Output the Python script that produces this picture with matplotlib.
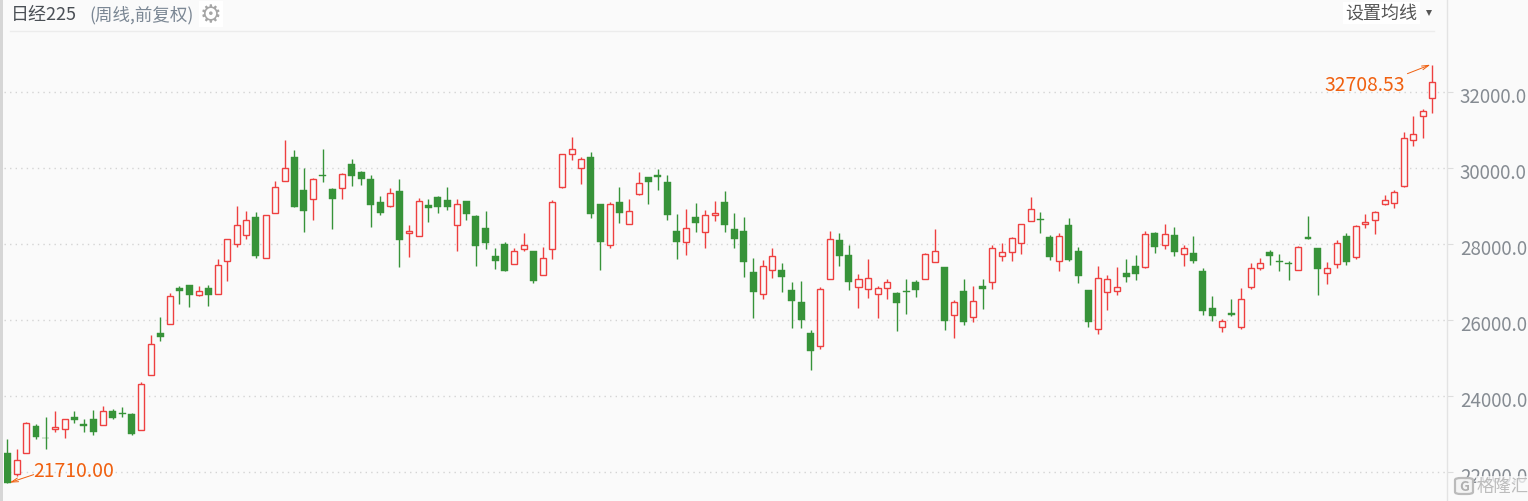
import matplotlib
matplotlib.use("Agg")
import matplotlib.pyplot as plt
from matplotlib.patches import Rectangle, FancyBboxPatch
from matplotlib.lines import Line2D
from matplotlib.transforms import ScaledTranslation

plt.rcParams['font.family'] = ['Noto Sans CJK SC', 'DejaVu Sans']

highs = [22851,22588,23315,23245,23430,23587,23394,23587,23377,23614,23719,23658,23693,23552,24368,25587,26060,26692,26876,26902,
26876,26902,27588,28132,28982,28851,28824,28763,29640,30719,30456,29982,29736,30482,29473,29868,30219,29903,29798,29245,
29456,29693,28482,29193,29166,29245,29482,29166,29114,28745,28851,27877,28035,27877,28272,27798,27904,29140,30368,30798,
30271,30403,29035,29087,29482,29166,29877,29745,29956,29798,28772,28903,29061,28877,29114,29377,28798,28692,27614,27561,
27877,27482,26982,27009,25719,26851,28324,28271,27956,27193,27587,26877,27061,26719,27061,27035,27763,28377,27377,26509,
27061,26877,27061,27956,28008,28184,28526,29219,28824,28219,28271,28666,27903,26772,27403,27166,27377,27587,27693,28324,
28298,28508,28429,27956,28193,27351,26614,26026,26535,26824,27500,27614,27825,27719,27535,27930,28719,27895,27509,28105,
28272,28500,28772,28868,29272,29421,30929,31350,31552,32708.53]
tops = [22482,22316,23289,23193,22895,23184,23394,23430,23245,23377,23605,23587,23543,23508,24315,25368,25640,26631,26824,26902,
26762,26824,27430,28132,28500,28631,28693,28763,29500,30000,30271,29403,29710,29798,29430,29842,30087,29877,29693,29087,
29342,29377,28324,29131,29009,29219,29140,29052,29114,28719,28403,27667,27982,27816,27974,27798,27632,29105,30368,30500,
30236,30271,29035,29052,29087,28868,29605,29745,29798,29614,28324,28421,28693,28763,28798,29087,28377,28324,27245,27421,
27684,27298,26772,26456,25640,26816,28131,28087,27693,27079,27105,26842,27000,26693,26745,26982,27736,27815,27377,26474,
26745,26500,26877,27894,27789,28157,28526,28920,28640,28166,28210,28482,27798,26772,27105,27079,26868,27219,27403,28263,
28271,28263,28219,27894,27745,27272,26298,25974,26167,26552,27368,27500,27772,27535,27491,27921,28167,27877,27369,28026,
28193,28474,28561,28842,29158,29368,30789,30894,31499,32262]
bottoms = [21710,21939,22500,22912,22877,23123,23123,23351,23201,23035,23228,23403,23517,22982,23096,24543,25534,25885,26745,26639,
26648,26639,26676,27544,27991,28228,27667,27623,28807,29649,28956,28851,29175,29772,29166,29465,29772,29693,29009,28798,
28982,28088,28272,28202,28930,28956,28956,28491,28772,27930,28009,27535,27272,27465,27860,27009,27176,27860,29491,30368,
29991,28772,28035,27965,28798,28517,29307,29614,29745,28745,28035,28044,28535,28315,28754,28482,28114,27508,26719,26675,
27307,27114,26482,25982,25167,25307,27070,27666,26982,26859,26807,26675,26842,26430,26719,26772,27070,27517,25956,26123,
25930,26070,26798,26991,27675,27780,28017,28596,28613,27640,27544,27561,27140,25930,25754,26728,26754,27114,27193,27386,
27903,27964,27771,27728,27535,26219,26088,25807,26114,25807,26859,27360,27676,27509,27465,27316,28132,27325,27237,27474,
27509,27649,28517,28623,29044,29079,29517,30736,31368,31832]
lows = [21710,21886,22500,22851,22588,23044,22877,23272,23035,22956,23228,23377,23438,22956,23096,24543,25429,25885,26402,26324,
26622,26350,26676,27009,27904,28114,27614,27623,28807,29649,28956,28298,28614,29614,28377,29166,29508,29535,28430,28745,
28956,27377,27640,28202,28561,28798,28877,27798,28614,27404,27851,27325,27272,27465,27798,26956,27176,27588,29465,30193,
29561,28667,27298,27877,28535,28517,29272,29035,29403,28614,27588,27693,28298,27877,28587,28298,27877,27114,26035,26535,
27087,26719,25772,25772,24667,25219,27070,27403,26772,26298,26561,26035,26535,25693,26140,26587,27070,27517,25719,25509,
25851,25930,26272,26798,27535,27535,27719,28596,28271,27561,27272,27535,26956,25798,25614,26245,26640,26982,27035,27351,
27745,27850,27666,27403,27482,26114,25956,25667,26088,25746,26798,27307,27430,27272,27044,27316,28114,26641,26930,27351,
27430,27588,28403,28246,29017,28930,29491,30561,30771,31429]
# candle colour: 1 = rising (hollow red), 0 = falling (solid green)
rising = [0,1,1,0,0,1,1,0,0,0,1,0,0,0,1,1,0,1,0,0,
1,0,1,1,1,1,0,1,1,1,0,0,1,0,0,1,0,0,0,0,
1,0,1,1,0,0,0,1,0,0,0,0,0,1,1,0,1,1,1,1,
1,0,0,1,0,1,1,0,0,0,0,1,0,1,1,0,0,0,0,1,
1,0,0,0,0,1,1,0,0,1,1,1,1,0,0,0,1,1,0,1,
0,1,0,1,1,1,1,1,0,0,1,0,0,0,1,1,1,0,0,1,
0,1,0,1,0,0,0,1,0,1,1,1,0,0,0,1,0,0,1,1,
0,1,1,1,1,1,1,1,1,1]

y_ticks = [22000, 24000, 26000, 28000, 30000, 32000]
y_tick_labels = ['22000.0', '24000.0', '26000.0', '28000.0', '30000.0', '32000.0']
title_main = '日经225'
title_sub = '(周线,前复权)'
ma_button = '设置均线'
max_label = '32708.53'
min_label = '21710.00'
watermark = '格隆汇'

W, H = 1528, 502
RED, GREEN = '#ee4040', '#379339'
BG = '#fafafa'

fig = plt.figure(figsize=(W / 100, H / 100), dpi=100, facecolor=BG)
left_px, right_px = 4, 1447.3
ax = fig.add_axes([left_px / W, 0, (right_px - left_px) / W, 1])
ax.set_facecolor(BG)

n = len(highs)
xs = list(range(n))
ax.set_xlim((left_px - 7.3) / 9.564, (right_px - 7.3) / 9.564)
ax.set_ylim(32000 - (H - 92.6) / 0.038, 32000 + 92.6 / 0.038)

for s in ['top', 'left', 'bottom']:
    ax.spines[s].set_visible(False)
ax.spines['right'].set_color('#e3e3e3')
ax.spines['right'].set_linewidth(1.0)
ax.set_xticks([])
ax.yaxis.tick_right()
ax.set_yticks(y_ticks)
ax.set_yticklabels(y_tick_labels, fontsize=13.5, color='#858b92')
ax.tick_params(axis='y', length=4, width=0.8, color='#dddddd', pad=5)
shift = ScaledTranslation(0, -2.5 / 100, fig.dpi_scale_trans)
for lab in ax.get_yticklabels():
    lab.set_transform(lab.get_transform() + shift)
ax.grid(axis='y', color='#d4d4d4', linestyle=(0, (1, 3)), linewidth=1.0)
ax.set_axisbelow(True)

for i in xs:
    c = RED if rising[i] else GREEN
    ax.vlines(i, lows[i], highs[i], color=c, linewidth=1.0, zorder=2)
    h = tops[i] - bottoms[i]
    if rising[i]:
        ax.bar(i, h, bottom=bottoms[i], width=0.63, facecolor=BG, edgecolor=c, linewidth=1.0, zorder=3)
    else:
        ax.bar(i, h, bottom=bottoms[i], width=0.73, facecolor=c, edgecolor=c, linewidth=0.3, zorder=3)

ORANGE = '#f0600f'
last = n - 1
ax.annotate(max_label, xy=(last, highs[last]), xytext=(-108, -20), textcoords='offset pixels',
            fontsize=13.9, color=ORANGE, ha='left', va='center', zorder=5)
ax.annotate('', xy=(last - 0.2, highs[last]), xytext=(-23, -9), textcoords='offset pixels',
            arrowprops=dict(arrowstyle='->,head_length=0.5,head_width=0.14', color=ORANGE, lw=0.7,
                            shrinkA=0, shrinkB=0), zorder=5)
ax.annotate(min_label, xy=(0, lows[0]), xytext=(26, 12), textcoords='offset pixels',
            fontsize=13.9, color=ORANGE, ha='left', va='center', zorder=5)
ax.annotate('', xy=(0.25, lows[0]), xytext=(24, 8), textcoords='offset pixels',
            arrowprops=dict(arrowstyle='->,head_length=0.5,head_width=0.14', color=ORANGE, lw=0.7,
                            shrinkA=0, shrinkB=0), zorder=5)

def px(x, y):
    return x / W, 1 - y / H

# left edge strip
fig.add_artist(Rectangle((0, 0), 2.5 / W, 1, transform=fig.transFigure, facecolor='#d6d6d6', edgecolor='none'))
# header rule
fig.add_artist(Line2D([10 / W, 1434 / W], [1 - 31.5 / H] * 2, color='#ececec', linewidth=1.0))

fig.text(*px(11, 15), title_main, fontsize=13, color='#4a4f55', va='center', ha='left')
fig.text(*px(89, 15), title_sub, fontsize=12.6, color='#7b8794', va='center', ha='left')
fig.text(*px(211, 15), '\u2699', fontsize=17.5, color='#a6a6a6', va='center', ha='center',
         family='DejaVu Sans', bbox=dict(facecolor='white', edgecolor='none', pad=1))
fig.text(*px(1345.5, 14), ma_button, fontsize=13, color='#555555', va='center', ha='left',
         bbox=dict(facecolor='white', edgecolor='none', pad=1.5))
fig.add_artist(Line2D([1428.5 / W], [1 - 13.5 / H], marker='v', markersize=5, markeredgewidth=0,
                      color='#555555', linestyle='none'))

# watermark
fig.add_artist(FancyBboxPatch((1455 / W, 1 - 495 / H), 18 / W, 16 / H, boxstyle='round,pad=0,rounding_size=0.004',
                              transform=fig.transFigure, facecolor='#f4f4f4', edgecolor='#b8b8b8',
                              linewidth=1.6, alpha=0.95, zorder=6))
fig.text(*px(1464, 487), 'G', fontsize=10, color='#b0b0b0', fontweight='bold', va='center', ha='center', zorder=7)
fig.text(*px(1477, 487), watermark, fontsize=12.5, color='#bdbdbd', va='center', ha='left', zorder=7,
         bbox=dict(facecolor='#fafafa', edgecolor='none', alpha=0.75, pad=1))

fig.savefig('out.png', dpi=100, facecolor=BG)
